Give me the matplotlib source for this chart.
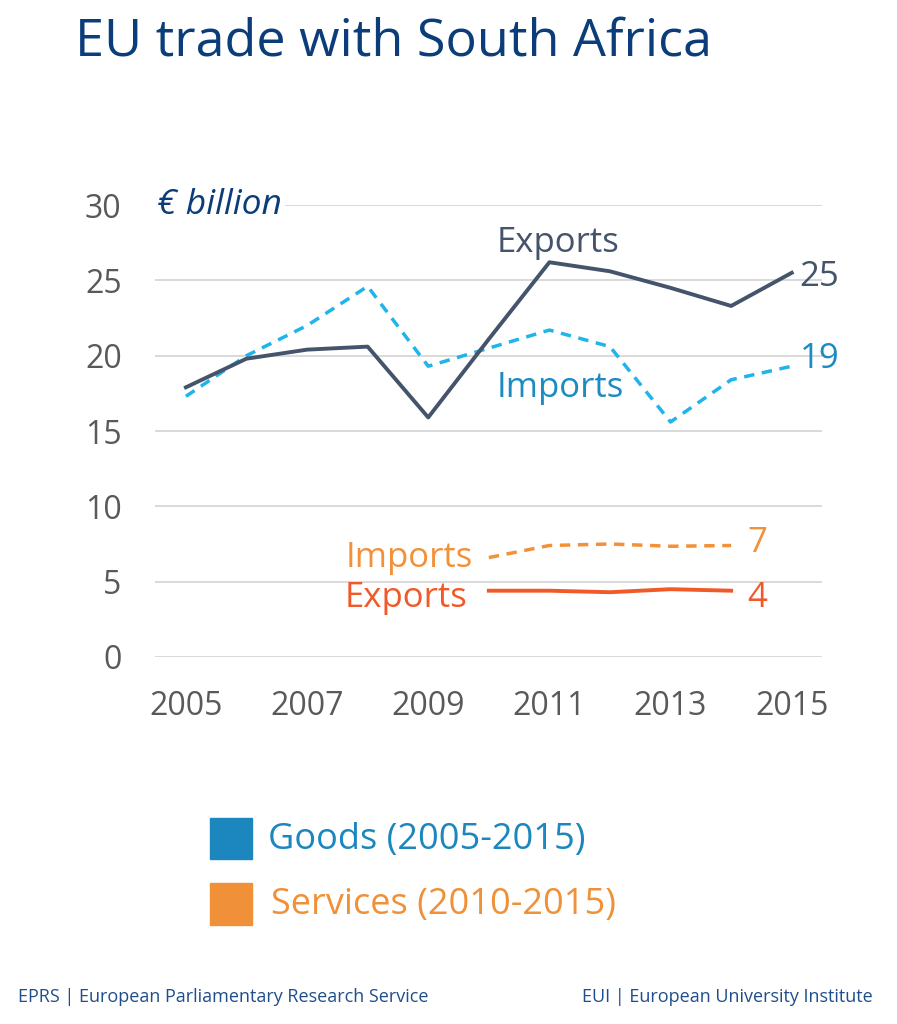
import matplotlib.pyplot as plt
import matplotlib.patches as mpatches

plt.rcParams['font.family'] = ['Open Sans', 'DejaVu Sans']

years = [2005, 2006, 2007, 2008, 2009, 2010, 2011, 2012, 2013, 2014, 2015]
goods_exports = [17.9, 19.8, 20.4, 20.6, 15.9, 21.1, 26.2, 25.6, 24.5, 23.3, 25.5]
goods_imports = [17.3, 20.0, 22.0, 24.6, 19.3, 20.5, 21.7, 20.6, 15.6, 18.4, 19.3]

serv_years = [2010, 2011, 2012, 2013, 2014]
serv_imports = [6.6, 7.4, 7.5, 7.35, 7.4]
serv_exports = [4.4, 4.4, 4.3, 4.5, 4.4]

yticks = [0, 5, 10, 15, 20, 25, 30]
xticks = [2005, 2007, 2009, 2011, 2013, 2015]

c_gexp = '#44546A'
c_gimp = '#1FB4EA'
c_gtxt = '#1D8BC2'
c_simp = '#F39138'
c_sexp = '#F05A28'
c_title = '#0B3D7A'
c_tick = '#595959'

fig = plt.figure(figsize=(8.97, 10.24), dpi=100)
ax = fig.add_axes([0.1728, 0.3584, 0.7436, 0.4414])

ax.plot(years, goods_imports, color=c_gimp, lw=2.5, ls=(0, (3, 2.2)))
ax.plot(years, goods_exports, color=c_gexp, lw=2.8)
ax.plot(serv_years, serv_imports, color=c_simp, lw=2.5, ls=(0, (3, 2.2)))
ax.plot(serv_years, serv_exports, color=c_sexp, lw=2.8)

ax.set_xlim(2004.49, 2015.5)
ax.set_ylim(0, 30)
ax.set_yticks(yticks)
ax.set_xticks(xticks)
ax.tick_params(length=0, labelsize=23, labelcolor=c_tick)
ax.tick_params(axis='y', pad=24)
ax.tick_params(axis='x', pad=24)
ax.grid(axis='y', color='#D9D9D9', lw=1.4)
ax.set_axisbelow(True)
for s in ax.spines.values():
    s.set_visible(False)

# series labels
fs = 25
ax.text(2010.13, 27.5, 'Exports', color=c_gexp, fontsize=fs, va='center', ha='left')
ax.text(2010.13, 17.85, 'Imports', color=c_gtxt, fontsize=fs, va='center', ha='left')
ax.text(2015.13, 25.2, '25', color=c_gexp, fontsize=fs, va='center', ha='left')
ax.text(2015.13, 19.8, '19', color=c_gtxt, fontsize=fs, va='center', ha='left')
ax.text(2009.74, 6.6, 'Imports', color=c_simp, fontsize=fs, va='center', ha='right')
ax.text(2009.65, 3.9, 'Exports', color=c_sexp, fontsize=fs, va='center', ha='right')
ax.text(2014.27, 7.55, '7', color=c_simp, fontsize=fs, va='center', ha='left')
ax.text(2014.27, 3.9, '4', color=c_sexp, fontsize=fs, va='center', ha='left')
ax.text(2004.52, 30, '€ billion', color=c_title, fontsize=25.5, style='italic',
        va='center', ha='left', bbox=dict(fc='white', ec='none', pad=2))

fig.text(75 / 897, 1 - 42 / 1024, 'EU trade with South Africa', color=c_title,
         fontsize=37.5, va='center', ha='left')

# legend
fig.patches.append(mpatches.Rectangle((210 / 897, 1 - 859 / 1024), 42 / 897, 41 / 1024,
                                      transform=fig.transFigure, color='#1B87BE'))
fig.patches.append(mpatches.Rectangle((210 / 897, 1 - 925 / 1024), 42 / 897, 42 / 1024,
                                      transform=fig.transFigure, color='#F0913A'))
fig.text(268 / 897, 1 - 840 / 1024, 'Goods (2005-2015)', color='#1B87BE',
         fontsize=26, va='center', ha='left')
fig.text(271 / 897, 1 - 905 / 1024, 'Services (2010-2015)', color='#F0913A',
         fontsize=26, va='center', ha='left')

# footer
fig.text(18 / 897, 1 - 997 / 1024, 'EPRS | European Parliamentary Research Service',
         color='#1F4E8C', fontsize=13, va='center', ha='left')
fig.text(873 / 897, 1 - 997 / 1024, 'EUI | European University Institute',
         color='#1F4E8C', fontsize=13, va='center', ha='right')

fig.savefig('out.png', dpi=100, facecolor='white')
